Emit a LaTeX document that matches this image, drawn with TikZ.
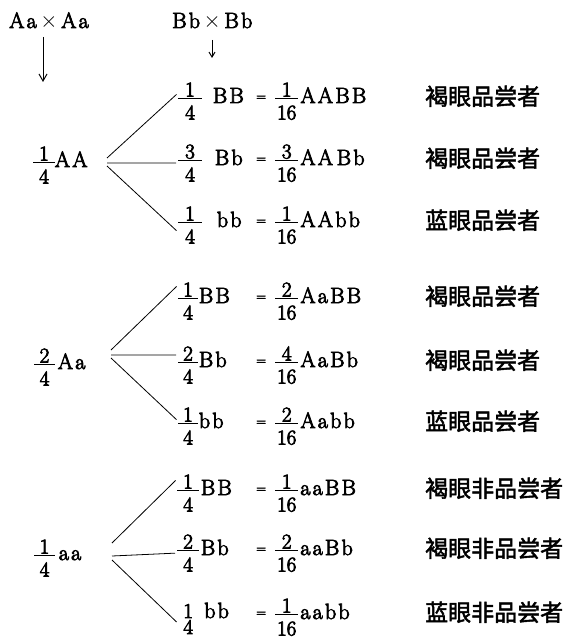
\documentclass[tikz,border=0pt]{standalone}
\usepackage{fix-cm}
\usepackage{fontspec}
\newfontfamily\gtf{Latin Modern Roman}[LetterSpace=10, FakeBold=3.5]
\newfontfamily\dgf{Latin Modern Roman}[FakeBold=3.5]
\newfontfamily\cjk{Noto Sans CJK SC}[FakeBold=2]
\usetikzlibrary{arrows.meta}
\newlength\frw
\newcommand\fr[3][6pt]{{\fontsize{21}{21}\selectfont\dgf
  \setbox0=\hbox{#2}\setbox2=\hbox{#3}%
  \frw=\wd0 \ifdim\wd2>\frw \frw=\wd2 \fi
  \advance\frw by #1\relax \advance\frw by #1\relax
  \makebox[0pt][l]{\makebox[\frw]{\raisebox{6.5pt}{\box0}}}%
  \makebox[0pt][l]{\makebox[\frw]{\raisebox{-16.5pt}{\box2}}}%
  \rule[4pt]{\frw}{0.9pt}}}
\newcommand\nb{{\fontsize{21}{21}\selectfont\dgf
  \makebox[0pt][l]{\makebox[20pt]{\raisebox{-16pt}{4}}}\makebox[20pt]{1}}}
\newcommand\gt[1]{{\fontsize{22}{22}\selectfont\gtf#1}}
\newcommand\eqs{\raisebox{2.5pt}{\fontsize{13}{13}\selectfont\dgf=}}
\begin{document}
\begin{tikzpicture}[x=1pt,y=-1pt,
  txt/.style={inner sep=0pt, anchor=base west, font=\fontsize{22}{22}\selectfont},
  cn/.style={inner sep=0pt, anchor=base west, font=\cjk\fontsize{23}{23}\selectfont},
  br/.style={line width=0.8pt, shorten >=2pt},
  arr/.style={-{Straight Barb[length=7pt,width=8pt]}, line width=1pt}]
\useasboundingbox (0,0) rectangle (571,639);
% top
\node[txt] (p1) at (9,28) {\gt{Aa}\,{\dgf$\times$}\,\gt{Aa}};
\node[txt] (p2) at (172,28) {\gt{Bb}\,{\dgf$\times$}\,\gt{Bb}};
\coordinate (a1) at (43,37);
\coordinate (a1e) at (43,82);
\draw[arr] (a1) -- (a1e);
\coordinate (a2) at (212,40);
\coordinate (a2e) at (212,58);
\draw[arr, -{Straight Barb[length=5pt,width=6pt]}] (a2) -- (a2e);
% group labels
\node[txt] (g1) at (33,167) {\fr{1}{4}\gt{AA}};
\node[txt] (g2) at (34,369) {\fr[5.5pt]{2}{4}\hspace{3pt}\gt{Aa}};
\node[txt] (g3) at (34,560) {\fr[5.5pt]{1}{4}\hspace{4pt}\gt{aa}};
% rows
\node[txt] (r1) at (178,103) {\fr[7pt]{1}{4}\hspace{11pt}\gt{BB}};
\node[txt] (r2) at (178,165) {\fr[7pt]{3}{4}\hspace{13pt}\gt{Bb}};
\node[txt] (r3) at (178,227) {\fr[7pt]{1}{4}\hspace{15pt}\gt{bb}};
\node[txt] (r4) at (178,303) {\fr[5pt]{1}{4}\hspace{1pt}\gt{BB}};
\node[txt] (r5) at (178,367) {\fr[5pt]{2}{4}\hspace{1pt}\gt{Bb}};
\node[txt] (r6) at (178,428) {\fr[5pt]{1}{4}\hspace{1pt}\gt{bb}};
\node[txt] (r7) at (177,495) {\fr[6pt]{1}{4}\hspace{2pt}\gt{BB}};
\node[txt] (r8) at (177,555) {\fr[6pt]{2}{4}\hspace{2pt}\gt{Bb}};
\node[txt] (r9) at (178,618) {\nb\hspace{6pt}\gt{bb}};
% products
\node[txt] (e1) at (256,103) {\eqs\hspace{9pt}\fr[2pt]{1}{16}\hspace{2pt}\gt{AABB}};
\node[txt] (e2) at (256,165) {\eqs\hspace{9pt}\fr[2pt]{3}{16}\hspace{2pt}\gt{AA\,Bb}};
\node[txt] (e3) at (256,227) {\eqs\hspace{9pt}\fr[2pt]{1}{16}\hspace{2pt}\gt{AAbb}};
\node[txt] (e4) at (256,303) {\eqs\hspace{9pt}\fr[2pt]{2}{16}\hspace{2pt}\gt{AaBB}};
\node[txt] (e5) at (256,367) {\eqs\hspace{9pt}\fr[2pt]{4}{16}\hspace{2pt}\gt{AaBb}};
\node[txt] (e6) at (256,428) {\eqs\hspace{9pt}\fr[2pt]{2}{16}\hspace{2pt}\gt{Aabb}};
\node[txt] (e7) at (256,495) {\eqs\hspace{9pt}\fr[2pt]{1}{16}\hspace{2pt}\gt{aaBB}};
\node[txt] (e8) at (256,555) {\eqs\hspace{9pt}\fr[2pt]{2}{16}\hspace{2pt}\gt{aaBb}};
\node[txt] (e9) at (256,619) {\eqs\hspace{9pt}\fr[2pt]{1}{16}\hspace{2pt}\gt{aabb}};
% phenotypes
\node[cn] (c1) at (425,105) {褐眼品尝者};
\node[cn] (c2) at (425,167) {褐眼品尝者};
\node[cn] (c3) at (425,229) {蓝眼品尝者};
\node[cn] (c4) at (425,305) {褐眼品尝者};
\node[cn] (c5) at (425,369) {褐眼品尝者};
\node[cn] (c6) at (425,430) {蓝眼品尝者};
\node[cn] (c7) at (425,497) {褐眼非品尝者};
\node[cn] (c8) at (425,557) {褐眼非品尝者};
\node[cn] (c9) at (425,621) {蓝眼非品尝者};
% branches
\coordinate (o1) at (107,163);
\coordinate (o2) at (111,355);
\coordinate (o3) at (112,556);
\draw[br] ([yshift=5pt]o1) -- ([yshift=8pt]r1.west);
\draw[br] (o1) -- (r2.west);
\draw[br] ([yshift=-3pt]o1) -- ([yshift=-7pt]r3.west);
\draw[br] ([yshift=5pt]o2) -- ([yshift=16pt]r4.west);
\draw[br] (o2) -- ([yshift=10pt]r5.west);
\draw[br] ([yshift=-3pt]o2) -- ([yshift=5pt]r6.west);
\draw[br] ([yshift=13pt]o3) -- ([yshift=14pt]r7.west);
\draw[br] (o3) -- (r8.west);
\draw[br] ([yshift=-4pt]o3) -- ([yshift=-5pt]r9.west);
\end{tikzpicture}
\end{document}
